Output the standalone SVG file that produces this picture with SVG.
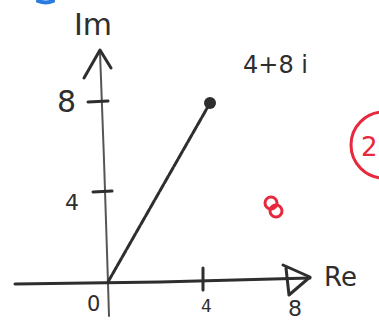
<svg xmlns="http://www.w3.org/2000/svg" width="379" height="320" viewBox="0 0 379 320">
<style>
.ink{fill:none;stroke:#2e2e2e;stroke-width:3;stroke-linecap:round;stroke-linejoin:round}
.thin{fill:none;stroke:#555;stroke-width:2;stroke-linecap:round}
.t{font-family:"DejaVu Sans",sans-serif;fill:#2e2e2e}
.red{fill:none;stroke:#e8283c;stroke-width:3}
</style>
<rect width="379" height="320" fill="#fff"/>
<path d="M38 1 Q46 4 53 1" stroke="#2a7be0" stroke-width="4" fill="none" stroke-linecap="round"/>
<g id="connectors">
<path class="thin" d="M100 52 L104 160 L108 283 L109 316"/>
<path class="ink" d="M84 78 L100 50 L111 68"/>
<path class="ink" d="M15 284 L160 282 L310 278"/>
<path class="ink" d="M283 265 L310 277 L289 295 L286 268"/>
<path class="ink" d="M88 102 L108 101"/>
<path class="ink" d="M93 192 L112 191"/>
<path class="ink" d="M203 268 L203 290"/>
<path class="ink" d="M108 282 L210 103" stroke-dasharray="8 1.5"/>
</g>
<g id="point">
<circle cx="210" cy="103" r="6" fill="#2e2e2e"/>
</g>
<g id="labels">
<text class="t" x="74" y="35" font-size="30">Im</text>
<text class="t" x="243" y="73" font-size="24">4+8 i</text>
<text class="t" x="57" y="112" font-size="30">8</text>
<text class="t" x="65" y="210" font-size="22">4</text>
<text class="t" x="87" y="311" font-size="21">0</text>
<text class="t" x="201" y="312" font-size="17">4</text>
<text class="t" x="288" y="316" font-size="22">8</text>
<text class="t" x="324" y="286" font-size="26">Re</text>
</g>
<g id="marks">
<circle class="red" cx="384" cy="145" r="33"/>
<text x="361" y="156" font-family="DejaVu Sans,sans-serif" font-size="26" fill="#e8283c">2</text>
<circle class="red" cx="271" cy="203" r="6"/>
<circle class="red" cx="276" cy="211" r="6"/>
</g>
</svg>
